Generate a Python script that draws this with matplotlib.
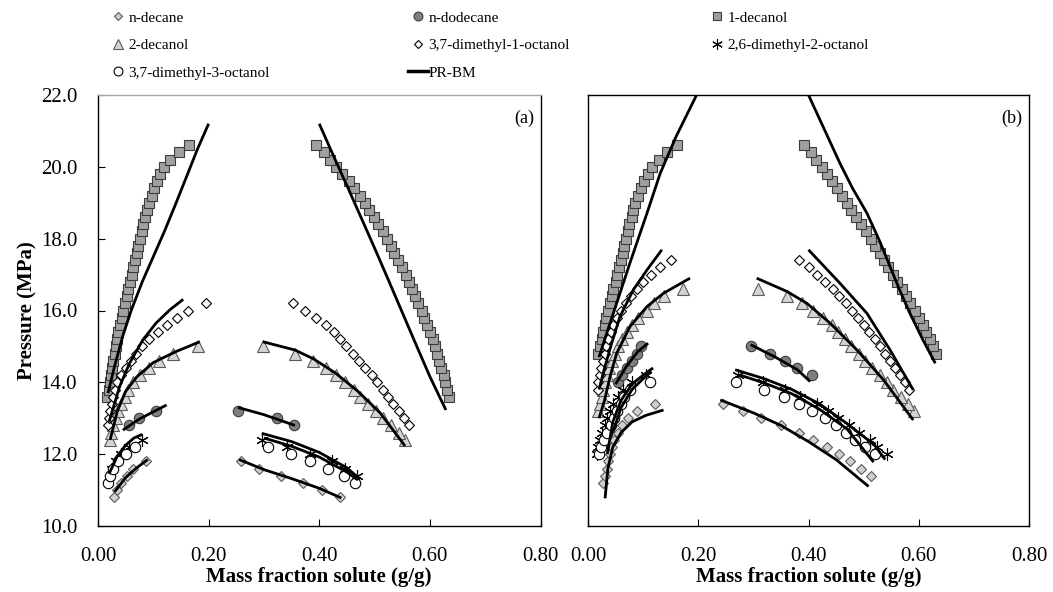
import matplotlib
matplotlib.use("Agg")
import matplotlib.pyplot as plt
from matplotlib.lines import Line2D

plt.rcParams['font.family'] = ['Liberation Serif', 'DejaVu Serif']

# ---------------- Panel (a): experimental points ----------------
a_decane_lo_x = [0.029, 0.035, 0.042, 0.052, 0.064, 0.087]
a_decane_lo_p = [10.8, 11.0, 11.2, 11.4, 11.6, 11.8]
a_decane_hi_x = [0.258, 0.291, 0.330, 0.371, 0.405, 0.438]
a_decane_hi_p = [11.8, 11.6, 11.4, 11.2, 11.0, 10.8]

a_dodecane_lo_x = [0.056, 0.074, 0.105]
a_dodecane_lo_p = [12.8, 13.0, 13.2]
a_dodecane_hi_x = [0.253, 0.323, 0.354]
a_dodecane_hi_p = [13.2, 13.0, 12.8]

a_dec1_p = [13.6, 13.8, 14.0, 14.2, 14.4, 14.6, 14.8, 15.0, 15.2, 15.4, 15.6, 15.8,
            16.0, 16.2, 16.4, 16.6, 16.8, 17.0, 17.2, 17.4, 17.6, 17.8, 18.0, 18.2,
            18.4, 18.6, 18.8, 19.0, 19.2, 19.4, 19.6, 19.8, 20.0, 20.2, 20.4, 20.6]
a_dec1_lo_x = [0.017, 0.019, 0.021, 0.023, 0.025, 0.027, 0.030, 0.032, 0.035, 0.037,
               0.040, 0.043, 0.046, 0.049, 0.052, 0.055, 0.058, 0.061, 0.064, 0.067,
               0.070, 0.073, 0.076, 0.079, 0.082, 0.085, 0.089, 0.093, 0.097, 0.101,
               0.106, 0.112, 0.119, 0.130, 0.146, 0.165]
a_dec1_hi_x = [0.634, 0.631, 0.628, 0.625, 0.621, 0.617, 0.613, 0.609, 0.605, 0.600,
               0.595, 0.590, 0.585, 0.579, 0.574, 0.568, 0.562, 0.556, 0.549, 0.543,
               0.536, 0.529, 0.522, 0.515, 0.507, 0.499, 0.490, 0.482, 0.473, 0.463,
               0.453, 0.442, 0.431, 0.420, 0.408, 0.395]

a_dec2_p = [12.4, 12.6, 12.8, 13.0, 13.2, 13.4, 13.6, 13.8, 14.0, 14.2, 14.4, 14.6, 14.8, 15.0]
a_dec2_lo_x = [0.021, 0.024, 0.028, 0.032, 0.037, 0.042, 0.048, 0.055, 0.064, 0.076,
               0.093, 0.111, 0.136, 0.181]
a_dec2_hi_x = [0.555, 0.544, 0.529, 0.516, 0.503, 0.489, 0.474, 0.462, 0.447, 0.430,
               0.412, 0.389, 0.356, 0.298]

a_dm1_p = [12.8, 13.0, 13.2, 13.4, 13.6, 13.8, 14.0, 14.2, 14.4, 14.6, 14.8, 15.0,
           15.2, 15.4, 15.6, 15.8, 16.0, 16.2]
a_dm1_lo_x = [0.018, 0.020, 0.022, 0.025, 0.028, 0.031, 0.035, 0.041, 0.050, 0.059,
              0.069, 0.080, 0.093, 0.108, 0.124, 0.142, 0.163, 0.196]
a_dm1_hi_x = [0.563, 0.554, 0.545, 0.534, 0.525, 0.516, 0.505, 0.495, 0.483, 0.471,
              0.461, 0.448, 0.438, 0.427, 0.412, 0.395, 0.374, 0.352]

a_dm2_lo_x = [0.025, 0.032, 0.042, 0.056, 0.080]
a_dm2_lo_p = [11.6, 11.8, 12.0, 12.2, 12.4]
a_dm2_hi_x = [0.296, 0.341, 0.383, 0.423, 0.447, 0.468]
a_dm2_hi_p = [12.4, 12.2, 12.0, 11.8, 11.6, 11.4]

a_dm3_lo_x = [0.018, 0.022, 0.028, 0.037, 0.050, 0.066]
a_dm3_lo_p = [11.2, 11.4, 11.6, 11.8, 12.0, 12.2]
a_dm3_hi_x = [0.307, 0.349, 0.383, 0.415, 0.444, 0.465]
a_dm3_hi_p = [12.2, 12.0, 11.8, 11.6, 11.4, 11.2]

# ---------------- Panel (a): PR-BM model curves ----------------
a_model = [
    ([0.030, 0.050, 0.070, 0.090], [10.95, 11.35, 11.62, 11.85]),
    ([0.255, 0.300, 0.350, 0.400, 0.440], [11.85, 11.57, 11.32, 11.05, 10.78]),
    ([0.045, 0.075, 0.124], [12.67, 12.98, 13.37]),
    ([0.253, 0.300, 0.356], [13.30, 13.10, 12.80]),
    ([0.018, 0.030, 0.045, 0.060, 0.080, 0.100, 0.120, 0.140, 0.162, 0.180, 0.200],
     [13.70, 14.45, 15.30, 16.00, 16.80, 17.50, 18.20, 18.95, 19.80, 20.50, 21.20]),
    ([0.400, 0.425, 0.450, 0.475, 0.500, 0.525, 0.550, 0.575, 0.600, 0.629],
     [21.20, 20.33, 19.48, 18.61, 17.74, 16.85, 15.95, 15.05, 14.16, 13.23]),
    ([0.022, 0.035, 0.050, 0.070, 0.100, 0.140, 0.184], [12.40, 13.20, 13.75, 14.15, 14.55, 14.85, 15.13]),
    ([0.298, 0.356, 0.390, 0.430, 0.470, 0.510, 0.555], [15.13, 14.90, 14.65, 14.25, 13.75, 13.15, 12.23]),
    ([0.020, 0.039, 0.057, 0.081, 0.105, 0.130, 0.154], [12.90, 13.88, 14.53, 15.18, 15.65, 16.02, 16.31]),
    ([0.020, 0.035, 0.050, 0.065, 0.080], [11.45, 11.95, 12.25, 12.45, 12.55]),
    ([0.296, 0.350, 0.400, 0.450, 0.474], [12.58, 12.35, 12.05, 11.62, 11.30]),
    ([0.300, 0.350, 0.400, 0.450, 0.470], [12.45, 12.22, 11.92, 11.50, 11.28]),
]

# ---------------- Panel (b): experimental points ----------------
b_decane_lo_x = [0.028, 0.031, 0.034, 0.037, 0.040, 0.043, 0.048, 0.054, 0.062, 0.072, 0.088, 0.121]
b_decane_lo_p = [11.2, 11.4, 11.6, 11.8, 12.0, 12.2, 12.4, 12.6, 12.8, 13.0, 13.2, 13.4]
b_decane_hi_x = [0.244, 0.282, 0.313, 0.350, 0.382, 0.409, 0.433, 0.456, 0.476, 0.495, 0.513]
b_decane_hi_p = [13.4, 13.2, 13.0, 12.8, 12.6, 12.4, 12.2, 12.0, 11.8, 11.6, 11.4]

b_dodecane_lo_x = [0.055, 0.062, 0.071, 0.080, 0.088, 0.097]
b_dodecane_lo_p = [14.0, 14.2, 14.4, 14.6, 14.8, 15.0]
b_dodecane_hi_x = [0.295, 0.330, 0.358, 0.380, 0.406]
b_dodecane_hi_p = [15.0, 14.8, 14.6, 14.4, 14.2]

b_dec1_p = [14.8, 15.0, 15.2, 15.4, 15.6, 15.8, 16.0, 16.2, 16.4, 16.6, 16.8, 17.0,
            17.2, 17.4, 17.6, 17.8, 18.0, 18.2, 18.4, 18.6, 18.8, 19.0, 19.2, 19.4,
            19.6, 19.8, 20.0, 20.2, 20.4, 20.6]
b_dec1_lo_x = [0.019, 0.022, 0.025, 0.027, 0.030, 0.033, 0.037, 0.040, 0.043, 0.046,
               0.050, 0.053, 0.056, 0.059, 0.063, 0.066, 0.069, 0.072, 0.075, 0.079,
               0.082, 0.086, 0.091, 0.096, 0.102, 0.109, 0.117, 0.128, 0.144, 0.161]
b_dec1_hi_x = [0.632, 0.626, 0.620, 0.614, 0.607, 0.600, 0.593, 0.585, 0.577, 0.569,
               0.561, 0.553, 0.545, 0.537, 0.529, 0.521, 0.513, 0.505, 0.496, 0.487,
               0.478, 0.469, 0.460, 0.451, 0.442, 0.433, 0.424, 0.414, 0.404, 0.391]

b_dec2_p = [13.2, 13.4, 13.6, 13.8, 14.0, 14.2, 14.4, 14.6, 14.8, 15.0, 15.2, 15.4,
            15.6, 15.8, 16.0, 16.2, 16.4, 16.6]
b_dec2_lo_x = [0.019, 0.022, 0.025, 0.028, 0.031, 0.035, 0.039, 0.044, 0.049, 0.055,
               0.062, 0.070, 0.079, 0.091, 0.107, 0.119, 0.137, 0.173]
b_dec2_hi_x = [0.592, 0.580, 0.568, 0.554, 0.542, 0.529, 0.515, 0.503, 0.491, 0.478,
               0.466, 0.454, 0.442, 0.426, 0.409, 0.389, 0.361, 0.309]

b_dm1_p = [13.8, 14.0, 14.2, 14.4, 14.6, 14.8, 15.0, 15.2, 15.4, 15.6, 15.8, 16.0,
           16.2, 16.4, 16.6, 16.8, 17.0, 17.2, 17.4]
b_dm1_lo_x = [0.018, 0.019, 0.021, 0.024, 0.027, 0.030, 0.033, 0.037, 0.041, 0.046,
              0.052, 0.060, 0.069, 0.078, 0.088, 0.100, 0.115, 0.130, 0.150]
b_dm1_hi_x = [0.583, 0.575, 0.566, 0.557, 0.548, 0.539, 0.530, 0.520, 0.510, 0.500,
              0.490, 0.479, 0.468, 0.456, 0.444, 0.430, 0.415, 0.400, 0.382]

b_dm2_lo_x = [0.017, 0.019, 0.022, 0.026, 0.030, 0.035, 0.040, 0.046, 0.054, 0.064, 0.080, 0.105]
b_dm2_lo_p = [12.0, 12.2, 12.4, 12.6, 12.8, 13.0, 13.2, 13.4, 13.6, 13.8, 14.0, 14.2]
b_dm2_hi_x = [0.273, 0.318, 0.358, 0.385, 0.415, 0.436, 0.454, 0.474, 0.492, 0.511, 0.525, 0.542]
b_dm2_hi_p = [14.2, 14.0, 13.8, 13.6, 13.4, 13.2, 13.0, 12.8, 12.6, 12.4, 12.2, 12.0]

b_dm3_lo_x = [0.020, 0.024, 0.029, 0.035, 0.041, 0.047, 0.053, 0.059, 0.066, 0.076, 0.112]
b_dm3_lo_p = [12.0, 12.2, 12.4, 12.6, 12.8, 13.0, 13.2, 13.4, 13.6, 13.8, 14.0]
b_dm3_hi_x = [0.269, 0.320, 0.355, 0.382, 0.406, 0.430, 0.450, 0.468, 0.485, 0.503, 0.521]
b_dm3_hi_p = [14.0, 13.8, 13.6, 13.4, 13.2, 13.0, 12.8, 12.6, 12.4, 12.2, 12.0]

# ---------------- Panel (b): PR-BM model curves ----------------
b_model = [
    ([0.031, 0.036, 0.045, 0.060, 0.080, 0.105, 0.137], [10.77, 11.60, 12.20, 12.60, 12.90, 13.08, 13.23]),
    ([0.240, 0.300, 0.350, 0.400, 0.450, 0.509], [13.51, 13.15, 12.80, 12.35, 11.85, 11.10]),
    ([0.050, 0.070, 0.090, 0.109], [13.95, 14.45, 14.85, 15.09]),
    ([0.295, 0.340, 0.380, 0.403], [15.05, 14.70, 14.35, 14.02]),
    ([0.020, 0.034, 0.052, 0.076, 0.107, 0.131, 0.160, 0.197, 0.210],
     [14.70, 15.37, 16.20, 17.32, 18.71, 19.82, 20.85, 22.00, 22.40]),
    ([0.392, 0.400, 0.430, 0.457, 0.480, 0.506, 0.530, 0.548, 0.566, 0.584, 0.607, 0.630],
     [22.30, 22.00, 21.00, 20.10, 19.40, 18.71, 17.90, 17.22, 16.55, 15.92, 15.20, 14.53]),
    ([0.020, 0.030, 0.040, 0.052, 0.076, 0.107, 0.137, 0.185], [13.00, 13.50, 14.16, 14.81, 15.55, 16.11, 16.48, 16.90]),
    ([0.306, 0.361, 0.397, 0.439, 0.488, 0.536, 0.590], [16.90, 16.53, 16.20, 15.65, 14.90, 14.07, 12.95]),
    ([0.020, 0.030, 0.043, 0.058, 0.082, 0.107, 0.134], [13.80, 14.40, 15.09, 15.83, 16.57, 17.13, 17.69]),
    ([0.400, 0.457, 0.506, 0.548, 0.590], [17.69, 16.76, 15.92, 14.90, 13.79]),
    ([0.035, 0.045, 0.060, 0.080, 0.100, 0.118], [12.00, 12.90, 13.50, 13.95, 14.20, 14.40]),
    ([0.045, 0.060, 0.080, 0.100, 0.115], [12.60, 13.30, 13.80, 14.10, 14.30]),
    ([0.267, 0.320, 0.370, 0.420, 0.470, 0.520, 0.539], [14.35, 14.10, 13.80, 13.40, 12.85, 12.25, 11.85]),
    ([0.276, 0.320, 0.370, 0.420, 0.470, 0.518], [14.20, 13.98, 13.68, 13.25, 12.70, 11.78]),
]

# ---------------- styles ----------------
st_decane = dict(marker='D', ms=5.2, mfc='#d0d0d0', mec='#5a5a5a', mew=0.8, ls='none')
st_dodecane = dict(marker='o', ms=7.5, mfc='#7f7f7f', mec='#3c3c3c', mew=0.8, ls='none')
st_dec1 = dict(marker='s', ms=7.2, mfc='#a0a0a0', mec='#3c3c3c', mew=0.8, ls='none')
st_dec2 = dict(marker='^', ms=8.0, mfc='#d4d4d4', mec='#5a5a5a', mew=0.8, ls='none')
st_dm1 = dict(marker='D', ms=5.2, mfc='white', mec='black', mew=0.8, ls='none')
st_dm2 = dict(marker=(6, 2, 0), ms=9, mfc='none', mec='black', mew=0.8, ls='none')
st_dm3 = dict(marker='o', ms=7.5, mfc='white', mec='black', mew=0.8, ls='none')
model_color = 'black'
model_lw = 2.0

fig = plt.figure(figsize=(10.53, 5.92), dpi=100)
W, H = 1053.0, 592.0
ax_a = fig.add_axes([98 / W, 1 - 526 / H, (540.5 - 98) / W, (526 - 95) / H])
ax_b = fig.add_axes([588 / W, 1 - 526 / H, (1029 - 588) / W, (526 - 95) / H])


def draw_points(ax, series):
    for xs, ps, st in series:
        ax.plot(xs, ps, zorder=3, clip_on=False, **st)


def draw_model(ax, curves):
    for xs, ps in curves:
        ax.plot(xs, ps, color=model_color, lw=model_lw, zorder=4,
                solid_capstyle='butt', solid_joinstyle='round')


draw_points(ax_a, [
    (a_decane_lo_x, a_decane_lo_p, st_decane), (a_decane_hi_x, a_decane_hi_p, st_decane),
    (a_dodecane_lo_x, a_dodecane_lo_p, st_dodecane), (a_dodecane_hi_x, a_dodecane_hi_p, st_dodecane),
    (a_dec1_lo_x, a_dec1_p, st_dec1), (a_dec1_hi_x, a_dec1_p, st_dec1),
    (a_dec2_lo_x, a_dec2_p, st_dec2), (a_dec2_hi_x, a_dec2_p, st_dec2),
    (a_dm1_lo_x, a_dm1_p, st_dm1), (a_dm1_hi_x, a_dm1_p, st_dm1),
    (a_dm2_lo_x, a_dm2_lo_p, st_dm2), (a_dm2_hi_x, a_dm2_hi_p, st_dm2),
    (a_dm3_lo_x, a_dm3_lo_p, st_dm3), (a_dm3_hi_x, a_dm3_hi_p, st_dm3),
])
draw_model(ax_a, a_model)

draw_points(ax_b, [
    (b_decane_lo_x, b_decane_lo_p, st_decane), (b_decane_hi_x, b_decane_hi_p, st_decane),
    (b_dodecane_lo_x, b_dodecane_lo_p, st_dodecane), (b_dodecane_hi_x, b_dodecane_hi_p, st_dodecane),
    (b_dec1_lo_x, b_dec1_p, st_dec1), (b_dec1_hi_x, b_dec1_p, st_dec1),
    (b_dec2_lo_x, b_dec2_p, st_dec2), (b_dec2_hi_x, b_dec2_p, st_dec2),
    (b_dm1_lo_x, b_dm1_p, st_dm1), (b_dm1_hi_x, b_dm1_p, st_dm1),
    (b_dm2_lo_x, b_dm2_lo_p, st_dm2), (b_dm2_hi_x, b_dm2_hi_p, st_dm2),
    (b_dm3_lo_x, b_dm3_lo_p, st_dm3), (b_dm3_hi_x, b_dm3_hi_p, st_dm3),
])
draw_model(ax_b, b_model)

x_ticks = [0.0, 0.2, 0.4, 0.6, 0.8]
y_ticks = [10.0, 12.0, 14.0, 16.0, 18.0, 20.0, 22.0]
tick_fs = 15

for ax, tag in ((ax_a, '(a)'), (ax_b, '(b)')):
    ax.set_xlim(0, 0.8)
    ax.set_ylim(10, 22)
    ax.set_xticks(x_ticks)
    ax.set_xticklabels([f'{t:.2f}' for t in x_ticks], fontsize=tick_fs)
    ax.set_yticks(y_ticks)
    ax.tick_params(direction='in', length=5, width=0.8, pad=15)
    for s in ax.spines.values():
        s.set_linewidth(1.0)
        s.set_color('black')
    ax.set_xlabel('Mass fraction solute (g/g)', fontsize=15, fontweight='bold', labelpad=1)
    ax.text(0.985, 0.965, tag, transform=ax.transAxes, ha='right', va='top', fontsize=13)

ax_a.spines['top'].set_color('#a6a6a6')
ax_a.set_yticklabels([f'{t:.1f}' for t in y_ticks], fontsize=tick_fs)
ax_a.set_ylabel('Pressure (MPa)', fontsize=15, fontweight='bold', labelpad=2)
ax_b.tick_params(axis='y', length=0)
ax_b.set_yticklabels([])

# legend, laid out row by row in three columns
leg_fs = 11
h_decane = Line2D([], [], **st_decane)
h_dodecane = Line2D([], [], **st_dodecane)
h_dec1 = Line2D([], [], **st_dec1)
h_dec2 = Line2D([], [], **st_dec2)
h_dm1 = Line2D([], [], **st_dm1)
h_dm2 = Line2D([], [], **st_dm2)
h_dm3 = Line2D([], [], **st_dm3)
h_model = Line2D([], [], color=model_color, lw=2.5)

columns = [
    ([h_decane, h_dec2, h_dm3], ['n-decane', '2-decanol', '3,7-dimethyl-3-octanol'], 108),
    ([h_dodecane, h_dm1, h_model], ['n-dodecane', '3,7-dimethyl-1-octanol', 'PR-BM'], 408),
    ([h_dec1, h_dm2], ['1-decanol', '2,6-dimethyl-2-octanol'], 707),
]
for handles, labels, xpix in columns:
    fig.legend(handles, labels, loc='upper left', bbox_to_anchor=(xpix / W, 1 - 11 / H),
               frameon=False, fontsize=leg_fs, handlelength=1.3, handletextpad=0.05,
               labelspacing=0.9, borderaxespad=0, borderpad=0, markerscale=0.85)

fig.savefig('out.png', dpi=100)
